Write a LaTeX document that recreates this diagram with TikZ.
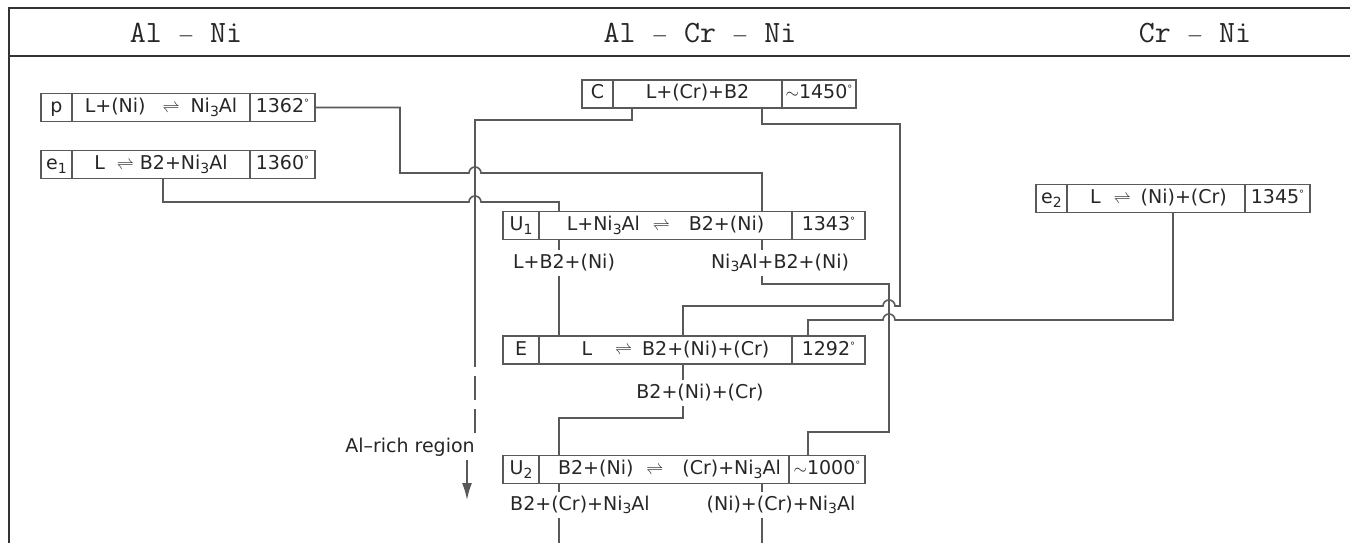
\documentclass[tikz,border=0pt]{standalone}
\usepackage{fontspec}
\setmainfont{DejaVu Sans}
\usetikzlibrary{arrows.meta}
\newcommand{\req}{$\rightleftharpoons$}
\newcommand{\lowr}[1]{\raisebox{-3.5pt}{\fontsize{14}{14}\selectfont #1}}
\newcommand{\nial}{Ni\lowr{3}Al}
\newcommand{\tdeg}{\raisebox{6pt}{\fontsize{10}{10}\selectfont °}}
\newcommand{\hdash}{\scalebox{0.85}[1]{$-$}}

\begin{document}
\begin{tikzpicture}
		[x=1pt,y=-1pt,
		every node/.style={font=\fontsize{19}{23}\selectfont, text=black!85},
		box/.style ={draw=black!65, line width=1.6pt, minimum height=28, inner sep=0pt, outer sep=0pt, text height=15, text depth=5},
		tag/.style ={box, minimum width=31},
		reac/.style ={box, minimum width=178},
		temp/.style ={box, minimum width=65},
		phase/.style ={inner sep=3pt, text height=15, text depth=5},
		line/.style ={draw=black!65, line width=1.6pt},
		hopr/.style ={start angle=180, end angle=360, radius=6},
		hopl/.style ={start angle=0, end angle=-180, radius=6},
		rule/.style ={draw=black!80, line width=1.8pt},
		head/.style ={font=\ttfamily\fontsize{31}{36}\selectfont},
		]
		\useasboundingbox (0,0) rectangle (1350,543);

		% frame and headings
		\draw[rule] (1350,8) -- (9,8) -- (9,543);
		\draw[rule] (9,56) -- (1350,56);
		\draw (186,34) node[head] (H1) {Al \hdash{} Ni};
		\draw (700,34) node[head] (H2) {Al \hdash{} Cr \hdash{} Ni};
		\draw (1195,34) node[head] (H3) {Cr \hdash{} Ni};

		% invariant reactions
		\draw (56.5,107.5) node[tag] (P0) {p};
		\draw (161,107.5) node[reac] (P1) {L+(Ni)\hspace{17pt}\req\hspace{11pt}\nial\hspace{10pt}};
		\draw (282.5,107.5) node[temp] (P2) {1362\tdeg};

		\draw (56.5,164.5) node[tag] (EI0) {e\lowr{1}};
		\draw (161,164.5) node[reac] (EI1) {L\hspace{12pt}\req\hspace{6pt}B2+\nial\hspace{5pt}};
		\draw (282.5,164.5) node[temp] (EI2) {1360\tdeg};

		\draw (597.5,94) node[tag] (C0) {C};
		\draw (697.5,94) node[reac, minimum width=169] (C1) {L+(Cr)+B2\hspace{8pt}};
		\draw (819,94) node[temp, minimum width=74] (C2) {$\sim$1450\tdeg};

		\draw (1051.5,198.5) node[tag] (EII0) {e\lowr{2}};
		\draw (1156,198.5) node[reac] (EII1) {\hspace{5pt}L\hspace{13pt}\req\hspace{10pt}(Ni)+(Cr)};
		\draw (1277.5,198.5) node[temp] (EII2) {1345\tdeg};

		\draw (521,225.5) node[tag, minimum width=36] (UI0) {U\lowr{1}};
		\draw (665.5,225.5) node[reac, minimum width=253] (UI1) {L+\nial\hspace{13pt}\req\hspace{19pt}B2+(Ni)\hspace{24pt}};
		\draw (828.5,225.5) node[temp, minimum width=73] (UI2) {1343\tdeg};

		\draw (521,350) node[tag, minimum width=36] (E0) {E};
		\draw (665.5,350) node[reac, minimum width=253] (E1) {\hspace{20pt}L\hspace{23pt}\req\hspace{10pt}B2+(Ni)+(Cr)};
		\draw (828.5,350) node[temp, minimum width=73] (E2) {1292\tdeg};

		\draw (521,469.5) node[tag, minimum width=36] (UII0) {U\lowr{2}};
		\draw (664,469.5) node[reac, minimum width=250] (UII1) {\hspace{11pt}B2+(Ni)\hspace{13pt}\req\hspace{19pt}(Cr)+\nial};
		\draw (827,469.5) node[temp, minimum width=76] (UII2) {$\sim$1000\tdeg};

		% phase fields between reactions
		\draw (564,263) node[phase] (L1) {L+B2+(Ni)};
		\draw (780,263) node[phase] (L2) {\nial+B2+(Ni)};
		\draw (700,393) node[phase] (L3) {B2+(Ni)+(Cr)};
		\draw (580,505) node[phase] (L4) {B2+(Cr)+\nial};
		\draw (781,505) node[phase] (L5) {(Ni)+(Cr)+\nial};
		\draw (410,447) node[phase] (AR) {Al–rich region};

		\coordinate (ARtop) at (475,434);
		\coordinate (ARtip) at (467,500);
		\coordinate (B1) at (559,543);
		\coordinate (B2) at (762,543);

		% connectors
		\draw[line] (P2.east) -| (400,173) -- (469,173) arc[hopr] -| (UI1.north -| 762,0);
		\draw[line] (EI1.south -| 163,0) |- (469,202) arc[hopr] -| (UI1.north -| 559,0);
		\draw[line] (C1.south -| 632,0) |- (475,120) -- (475,367);
		\draw[line, dash pattern=on 24pt off 9pt, dash phase=24pt] (475,367) -- (ARtop);
		\draw[line, -{Latex[length=17pt,width=10pt]}] (AR.south -| ARtip) -- (ARtip);
		\draw[line] (C1.south -| 762,0) |- (900,124) |- (895,306) arc[hopl] -| (E1.north -| 683,0);
		\draw[line] (EII1.south -| 1173,0) |- (895,320) arc[hopl] -| (E2.north -| 808,0);

		\draw[line] (UI1.south -| 559,0) -- (L1.north -| 559,0);
		\draw[line] (L1.south -| 559,0) -- (E1.north -| 559,0);
		\draw[line] (UI1.south -| 762,0) -- (L2.north -| 762,0);
		\draw[line] (L2.south -| 762,0) |- (889,284) |- (808,432) -- (UII2.north -| 808,0);

		\draw[line] (E1.south -| 683,0) -- (L3.north -| 683,0);
		\draw[line] (L3.south -| 683,0) |- (559,418) -- (UII1.north -| 559,0);

		\draw[line] (UII1.south -| 559,0) -- (L4.north -| 559,0);
		\draw[line] (L4.south -| 559,0) -- (B1);
		\draw[line] (UII1.south -| 762,0) -- (L5.north -| 762,0);
		\draw[line] (L5.south -| 762,0) -- (B2);

	\end{tikzpicture}
\end{document}
